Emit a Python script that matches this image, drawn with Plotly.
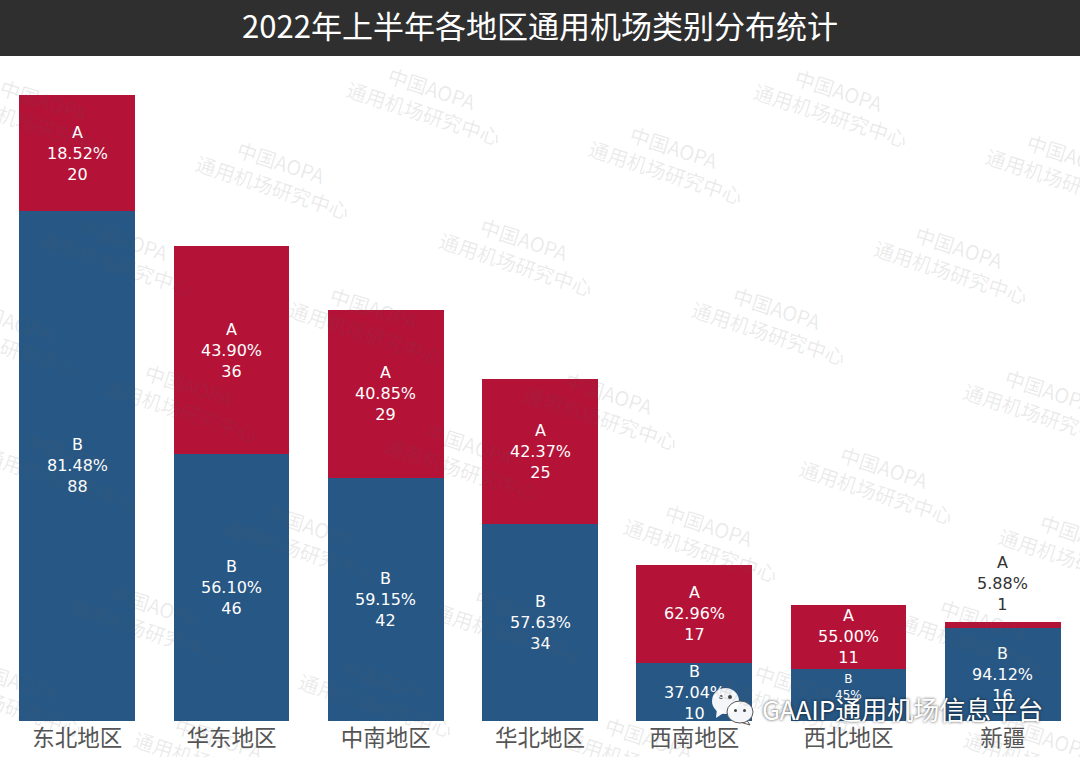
import plotly.graph_objects as go

categories = ["东北地区", "华东地区", "中南地区", "华北地区", "西南地区", "西北地区", "新疆"]
a_counts = [20, 36, 29, 25, 17, 11, 1]
b_counts = [88, 46, 42, 34, 10, 9, 16]
a_pct = ["18.52%", "43.90%", "40.85%", "42.37%", "62.96%", "55.00%", "5.88%"]
b_pct = ["81.48%", "56.10%", "59.15%", "57.63%", "37.04%", "45%", "94.12%"]

RED = "#b41237"
BLUE = "#275784"
W, H = 1080, 757
BOTTOM = 36
LABEL_FONT = "DejaVu Sans, Noto Sans CJK SC"
CJK_FONT = "Noto Sans CJK SC"


def px(x):
    return x / W


def py(y):
    # pixel y from the top -> paper coords (paper 0..1 is the plot area)
    return (H - BOTTOM - y) / (H - BOTTOM)


def pxy(x, y):
    return f"{px(x)} {py(y)}"


fig = go.Figure()
fig.add_trace(go.Bar(x=categories, y=b_counts, name="B", marker=dict(color=BLUE, line=dict(width=0))))
fig.add_trace(go.Bar(x=categories, y=a_counts, name="A", marker=dict(color=RED, line=dict(width=0))))

# segment labels as annotations, bar text gets shrunk by plotly when it does not fit
for i, cat in enumerate(categories):
    size = 12 if b_pct[i] == "45%" else 16
    fig.add_annotation(x=cat, y=b_counts[i] / 2, showarrow=False, yanchor="middle",
                       text=f"B<br>{b_pct[i]}<br>{b_counts[i]}",
                       font=dict(color="white", size=size, family=LABEL_FONT))
    if a_counts[i] > 1:
        fig.add_annotation(x=cat, y=b_counts[i] + a_counts[i] / 2, showarrow=False, yanchor="middle",
                           text=f"A<br>{a_pct[i]}<br>{a_counts[i]}",
                           font=dict(color="white", size=16, family=LABEL_FONT))
    else:
        # the sliver is too thin, label sits above the bar
        fig.add_annotation(x=cat, y=b_counts[i] + a_counts[i], yshift=6, showarrow=False, yanchor="bottom",
                           text=f"A<br>{a_pct[i]}<br>{a_counts[i]}",
                           font=dict(color="#333333", size=16, family=LABEL_FONT))

# watermark centres, pixels
marks = [(40, 112), (428, 100), (835, 102), (277, 174), (670, 159), (1067, 167), (520, 252), (120, 252),
         (955, 260), (370, 320), (773, 320), (5, 332), (185, 397), (605, 405), (1045, 402), (465, 457),
         (65, 467), (880, 480), (305, 537), (705, 537), (1080, 547), (150, 617), (515, 622), (980, 632),
         (380, 692), (795, 697), (10, 692), (215, 750), (645, 750), (1045, 750)]
for mx, my in marks:
    fig.add_annotation(xref="paper", yref="paper", x=px(mx), y=py(my), showarrow=False, textangle=18,
                       xanchor="center", yanchor="middle", text="中国AOPA<br>通用机场研究中心",
                       font=dict(color="rgba(90,90,90,0.13)", size=20, family=CJK_FONT))

# bottom right account mark
fig.add_annotation(xref="paper", yref="paper", x=px(760), y=py(708), xanchor="left", yanchor="middle",
                   showarrow=False, text="GAAIP通用机场信息平台",
                   font=dict(color="white", size=26, family=CJK_FONT, shadow="0 0 3px rgba(0,0,0,0.75)"))

fig.update_layout(
    width=W, height=H,
    barmode="stack", bargap=0.25,
    showlegend=False,
    paper_bgcolor="white", plot_bgcolor="white",
    margin=dict(l=0, r=0, t=0, b=BOTTOM, autoexpand=False),
    xaxis=dict(showline=False, ticks="", showgrid=False, tickangle=0, ticklabelstandoff=1,
               tickfont=dict(size=22.5, color="#555555", family=CJK_FONT)),
    yaxis=dict(visible=False, range=[0, 124.4]),
    title=dict(text="2022年上半年各地区通用机场类别分布统计", x=0.5, xanchor="center", y=1 - 27 / H, yanchor="middle",
               font=dict(color="white", size=31, family=CJK_FONT)),
)

bubble = "rgba(255,255,255,0.95)"
fig.update_layout(shapes=[
    dict(type="rect", xref="paper", yref="paper", x0=0, x1=1, y0=py(56), y1=py(0), fillcolor="#2f2f2f",
         line=dict(width=0), layer="above"),
    dict(type="path", xref="paper", yref="paper", fillcolor=bubble, line=dict(width=0), layer="above",
         path=f"M {pxy(717, 708)} L {pxy(716, 718)} L {pxy(725, 712)} Z"),
    dict(type="circle", xref="paper", yref="paper", x0=px(712), x1=px(739), y0=py(714), y1=py(688),
         fillcolor=bubble, line=dict(width=0), layer="above"),
    dict(type="path", xref="paper", yref="paper", fillcolor=bubble, line=dict(color="#555555", width=1), layer="above",
         path=f"M {pxy(746, 719)} L {pxy(750, 725)} L {pxy(740, 722)} Z"),
    dict(type="circle", xref="paper", yref="paper", x0=px(727), x1=px(753), y0=py(723), y1=py(701),
         fillcolor=bubble, line=dict(color="#555555", width=1), layer="above"),
    dict(type="circle", xref="paper", yref="paper", x0=px(719), x1=px(723), y0=py(699), y1=py(695),
         fillcolor="#444444", line=dict(width=0), layer="above"),
    dict(type="circle", xref="paper", yref="paper", x0=px(728), x1=px(732), y0=py(699), y1=py(695),
         fillcolor="#444444", line=dict(width=0), layer="above"),
    dict(type="circle", xref="paper", yref="paper", x0=px(734), x1=px(737), y0=py(712), y1=py(709),
         fillcolor="#444444", line=dict(width=0), layer="above"),
    dict(type="circle", xref="paper", yref="paper", x0=px(743), x1=px(746), y0=py(712), y1=py(709),
         fillcolor="#444444", line=dict(width=0), layer="above"),
])

fig.write_html("out.html", config=dict(displayModeBar=False), post_script="document.body.style.margin='0';")
